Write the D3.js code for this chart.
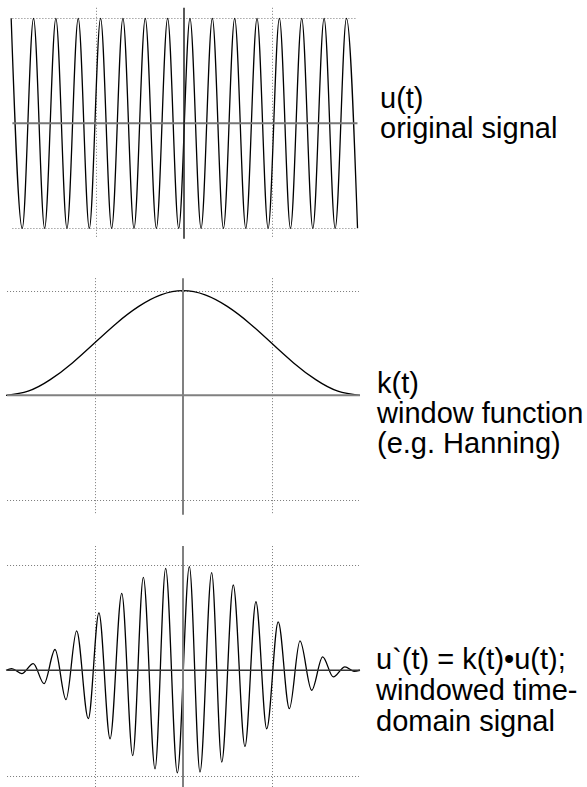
<!DOCTYPE html>
<html>
<head>
<meta charset="utf-8">
<script src="https://cdn.jsdelivr.net/npm/d3@7"></script>
<style>
  body { margin: 0; background: #fff; }
  svg { display: block; }
  text { font-family: "Liberation Sans", Arial, Helvetica, sans-serif; }
</style>
</head>
<body>
<div id="chart"></div>
<script>
//-------------------------------------------------------------------------------
// data (time axis runs -1..1, amplitude -1..1)

// u(t): turning points of the original signal
const u_times = [-0.982, -0.919, -0.855, -0.792, -0.728, -0.665, -0.601, -0.538,
                 -0.474, -0.411, -0.347, -0.284, -0.220, -0.157, -0.093, -0.030,
                  0.034,  0.097,  0.161,  0.224,  0.288,  0.351,  0.415,  0.478,
                  0.542,  0.605,  0.669,  0.732,  0.796,  0.859,  0.923,  0.986];
const u_values = [1, -1, 1, -1, 1, -1, 1, -1, 1, -1, 1, -1, 1, -1, 1, -1,
                  1, -1, 1, -1, 1, -1, 1, -1, 1, -1, 1, -1, 1, -1, 1, -1];

// k(t): Hanning window
const k_times  = [-1, -0.875, -0.75, -0.625, -0.5, -0.375, -0.25, -0.125, 0,
                  0.125, 0.25, 0.375, 0.5, 0.625, 0.75, 0.875, 1];
const k_values = [0, 0.04, 0.15, 0.31, 0.5, 0.69, 0.85, 0.96, 1,
                  0.96, 0.85, 0.69, 0.5, 0.31, 0.15, 0.04, 0];

// u`(t): windowed signal turning points
const w_times  = [-1, -0.968, -0.911, -0.846, -0.785, -0.723, -0.661, -0.601, -0.535,
                  -0.475, -0.412, -0.346, -0.284, -0.224, -0.158, -0.098, -0.032,
                   0.036, 0.096, 0.162, 0.219, 0.284, 0.350, 0.412, 0.473,
                   0.538, 0.601, 0.661, 0.727, 0.789, 0.849, 0.915, 0.966, 1];
const w_values = [0, 0.016, -0.032, 0.063, -0.127, 0.197, -0.279, 0.375, -0.460,
                  0.546, -0.651, 0.730, -0.810, 0.883, -0.937, 0.968, -0.975,
                  0.984, -0.968, 0.927, -0.873, 0.810, -0.724, 0.651, -0.556,
                  0.460, -0.365, 0.279, -0.190, 0.127, -0.063, 0.032, -0.010, 0];

// grid lines
const grid_times  = [-0.5, 0.5];
const grid_values = [-1, 1];

// labels
const labels_u = ["u(t)", "original signal"];
const labels_k = ["k(t)", "window function", "(e.g. Hanning)"];
const labels_w = ["u`(t) = k(t)\u2022u(t);", "windowed time-", "domain signal"];

//-------------------------------------------------------------------------------
const width = 587, height = 787;

const svg = d3.select("#chart")
  .append("svg")
    .attr("width", width)
    .attr("height", height);

svg.append("rect").attr("width", width).attr("height", height).attr("fill", "#fff");

// one panel = grid, zero axes, signal, text on the right
function drawPanel(p) {
  const x = d3.scaleLinear().domain([-1, 1]).range(p.xRange);
  const y = d3.scaleLinear().domain([-1, 1]).range(p.yRange);
  const g = svg.append("g");

  // dotted grid
  g.selectAll(".hgrid")
    .data(grid_values).enter().append("line")
    .attr("x1", x(p.hExtent[0])).attr("x2", x(p.hExtent[1]))
    .attr("y1", d => Math.round(y(d)) + 0.5).attr("y2", d => Math.round(y(d)) + 0.5)
    .attr("stroke", "#7a7a7a")
    .attr("stroke-dasharray", "1,2");

  g.selectAll(".vgrid")
    .data(grid_times).enter().append("line")
    .attr("x1", d => Math.round(x(d)) + 0.5).attr("x2", d => Math.round(x(d)) + 0.5)
    .attr("y1", y(p.vExtent[1])).attr("y2", y(p.vExtent[0]))
    .attr("stroke", "#7a7a7a")
    .attr("stroke-dasharray", "1,2");

  // signal
  const line = d3.line()
    .x(d => x(d[0]))
    .y(d => y(d[1]))
    .curve(p.curve);

  g.append("path")
    .datum(d3.zip(p.times, p.values))
    .attr("fill", "none")
    .attr("stroke", "#000")
    .attr("stroke-width", 1.3)
    .attr("d", line);

  // zero axes
  g.append("line")
    .attr("x1", x(p.hExtent[0])).attr("x2", x(p.hExtent[1]) + 1)
    .attr("y1", y(0)).attr("y2", y(0))
    .attr("stroke", p.hColor)
    .attr("stroke-width", p.hWidth);

  g.append("line")
    .attr("x1", x(0)).attr("x2", x(0))
    .attr("y1", y(p.vExtent[1])).attr("y2", y(p.vExtent[0]))
    .attr("stroke", p.vColor)
    .attr("stroke-width", p.vWidth);

  // text
  g.selectAll(".label")
    .data(p.labels).enter().append("text")
    .attr("x", p.textX)
    .attr("y", (d, i) => p.textY + i * p.lineGap)
    .attr("font-size", "29px")
    .attr("fill", "#000")
    .text(d => d);
}

drawPanel({
  times: u_times, values: u_values, curve: d3.curveMonotoneX,
  xRange: [8, 360], yRange: [228.3, 18.3],
  hExtent: [-0.975, 0.98], vExtent: [-1.1, 1.1],
  hColor: "#777", hWidth: 2, vColor: "#222", vWidth: 1.5,
  labels: labels_u, textX: 380, textY: 108, lineGap: 30
});

drawPanel({
  times: k_times, values: k_values, curve: d3.curveNatural,
  xRange: [6, 360], yRange: [500, 290.7],
  hExtent: [-0.994, 0.994], vExtent: [-1.14, 1.12],
  hColor: "#808080", hWidth: 2, vColor: "#808080", vWidth: 2,
  labels: labels_k, textX: 377, textY: 393, lineGap: 30
});

drawPanel({
  times: w_times, values: w_values, curve: d3.curveMonotoneX,
  xRange: [6, 360], yRange: [775.5, 565],
  hExtent: [-0.994, 0.994], vExtent: [-1.25, 1.18],
  hColor: "#333", hWidth: 1.5, vColor: "#808080", vWidth: 2,
  labels: labels_w, textX: 376, textY: 669, lineGap: 31
});
</script>
</body>
</html>
